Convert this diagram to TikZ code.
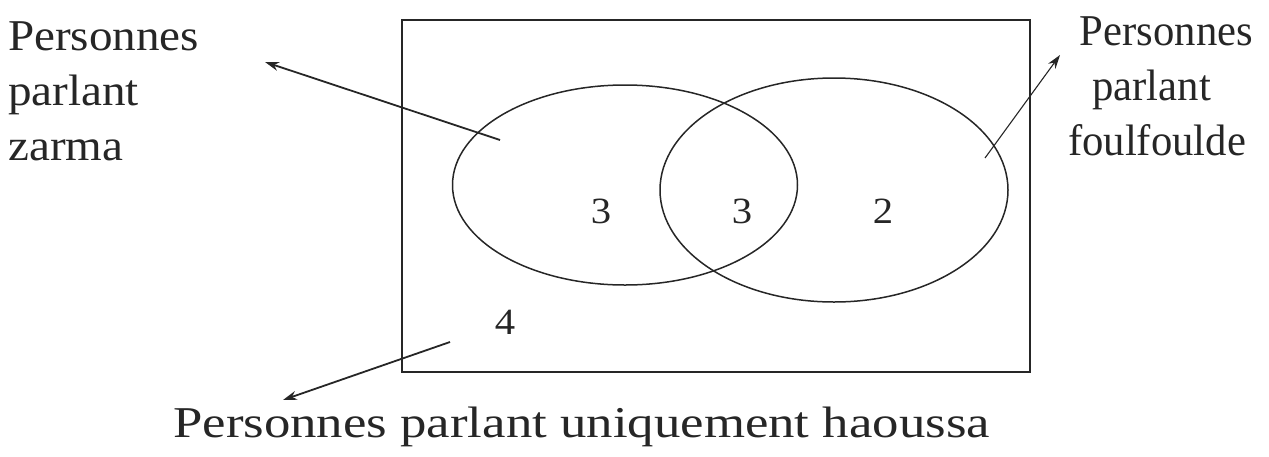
\documentclass[tikz,border=0pt]{standalone}
\usepackage{fontspec}
\setmainfont{Liberation Serif}
\usetikzlibrary{shapes.geometric,arrows.meta}
\begin{document}
\begin{tikzpicture}[x=1pt,y=-1pt,
  lbl/.style={font=\fontsize{44}{55}\selectfont, text=black!85, inner sep=0pt, anchor=base west},
  num/.style={font=\fontsize{37}{44}\selectfont, text=black!85, inner sep=0pt},
  set/.style={draw=black!85, line width=1.5pt, ellipse, inner sep=0pt},
  arr/.style={draw=black!85, line width=1.8pt, -{Stealth[length=14pt,width=9pt]}}]
\useasboundingbox (0,0) rectangle (1269,456);
\node[draw=black!85, line width=2.2pt, minimum width=628pt, minimum height=352pt, inner sep=0pt] (univ) at (716,196) {};
\node[set, minimum width=345pt, minimum height=200pt] (zarma) at (625,185) {};
\node[set, minimum width=348pt, minimum height=224pt] (foul) at (834,190) {};
\node[num] (n1) at (601,211) {\scalebox{1.1}[1]{3}};
\node[num] (n2) at (742,211) {\scalebox{1.1}[1]{3}};
\node[num] (n3) at (883,211) {\scalebox{1.1}[1]{2}};
\node[num] (n4) at (505,322) {\scalebox{1.1}[1]{4}};
\node[lbl] (lz) at (8,50) {\scalebox{1.07}[1]{\begin{tabular}[t]{@{}l@{}}Personnes\\parlant\\zarma\end{tabular}}};
\node[lbl] (lf) at (1068,45) {\scalebox{0.97}[1]{\begin{tabular}[t]{@{}l@{}}\hspace*{12pt}Personnes\\\hspace*{25pt}parlant\\foulfoulde\end{tabular}}};
\node[lbl] (lh) at (173,437) {\scalebox{1.2}[1]{Personnes parlant uniquement haoussa}};
\coordinate (za) at (500,140);
\coordinate (zt) at (265,62);
\coordinate (fa) at (985,158);
\coordinate (ft) at (1060,55);
\coordinate (ha) at (450,342);
\coordinate (ht) at (283,400);
\draw[arr] (za) -- (zt);
\draw[arr, line width=1.1pt] (fa) -- (ft);
\draw[arr] (ha) -- (ht);
\end{tikzpicture}
\end{document}
